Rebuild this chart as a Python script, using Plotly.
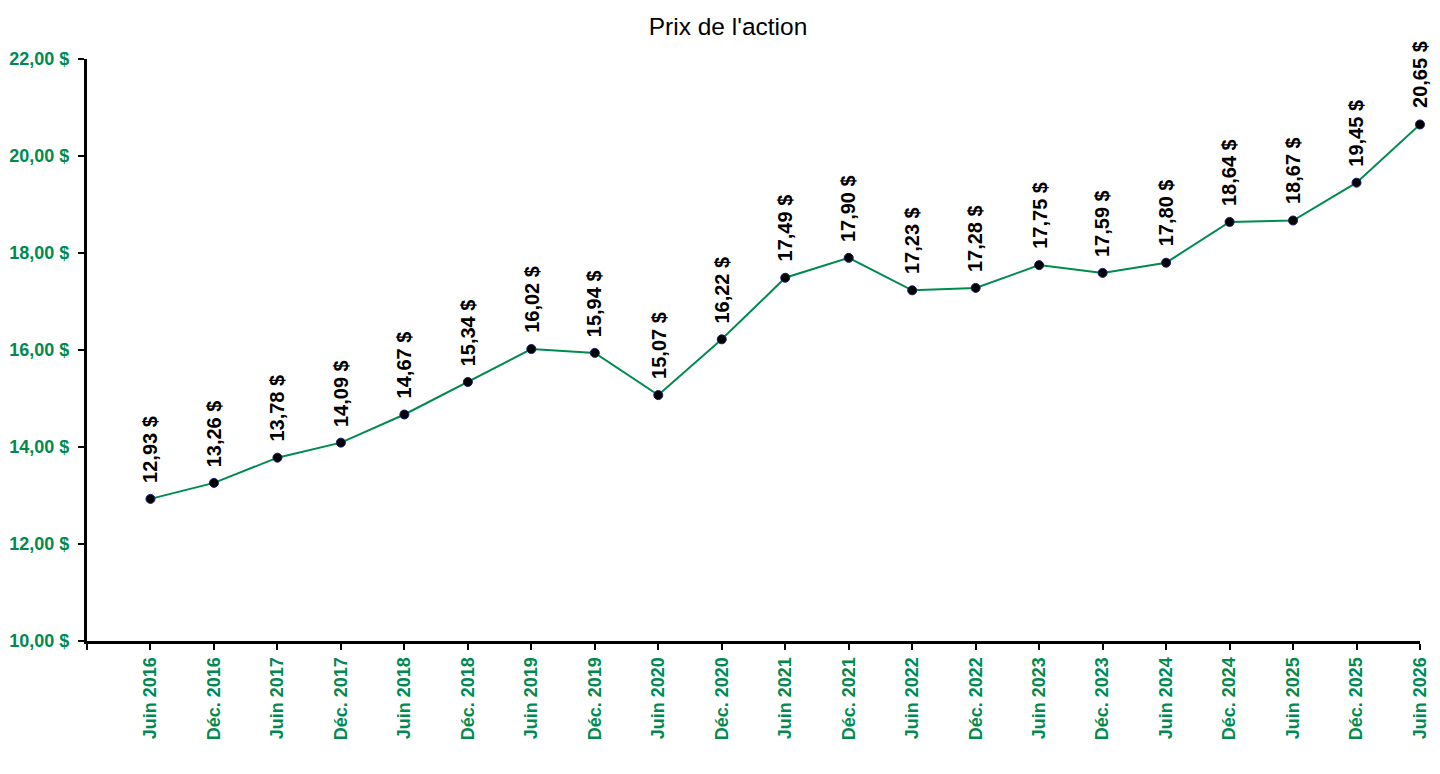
import plotly.graph_objs as go

labels = ['Juin 2016', 'Déc. 2016', 'Juin 2017', 'Déc. 2017', 'Juin 2018', 'Déc. 2018',
          'Juin 2019', 'Déc. 2019', 'Juin 2020', 'Déc. 2020', 'Juin 2021', 'Déc. 2021',
          'Juin 2022', 'Déc. 2022', 'Juin 2023', 'Déc. 2023', 'Juin 2024', 'Déc. 2024',
          'Juin 2025', 'Déc. 2025', 'Juin 2026']
prices = [12.93, 13.26, 13.78, 14.09, 14.67, 15.34, 16.02, 15.94, 15.07, 16.22, 17.49,
          17.90, 17.23, 17.28, 17.75, 17.59, 17.80, 18.64, 18.67, 19.45, 20.65]
y_ticks = [10, 12, 14, 16, 18, 20, 22]

green = '#008A50'
font = 'Liberation Sans, Arial, sans-serif'

def fr(v):
    return f'{v:.2f}'.replace('.', ',') + ' $'

xs = list(range(len(labels)))

fig = go.Figure()
fig.add_trace(go.Scatter(
    x=xs, y=prices, mode='lines+markers',
    line={'color': green, 'width': 2},
    marker={'size': 9, 'color': 'black', 'line': {'color': '#1a1a6e', 'width': 1}},
    cliponaxis=False, hoverinfo='skip'))

# data labels, vertical above each point
for x, v in zip(xs, prices):
    fig.add_annotation(x=x, y=v, text='<b>' + fr(v) + '</b>', textangle=-90,
                       showarrow=False, yanchor='bottom', xanchor='center', yshift=14,
                       font={'family': font, 'size': 20, 'color': 'black'})

# page body adds an 8px offset, margins are compensated for it
fig.update_layout({
    'width': 1440, 'height': 774,
    'margin': {'l': 79, 'r': 28, 't': 51, 'b': 141},
    'plot_bgcolor': 'white', 'paper_bgcolor': 'white',
    'showlegend': False,
    'title': {'text': "Prix de l'action", 'x': 0.5, 'xanchor': 'center',
              'yref': 'container', 'y': 1 - 18 / 774, 'yanchor': 'middle',
              'font': {'family': font, 'size': 24.5, 'color': 'black'}},
    'xaxis': {
        'range': [-1, 20], 'showgrid': False, 'zeroline': False, 'automargin': False,
        'tickvals': [-1] + xs, 'ticktext': [''] + ['<b>' + l + '</b>' for l in labels],
        'tickangle': -90, 'ticks': 'outside', 'ticklen': 6, 'tickwidth': 2,
        'tickcolor': 'black', 'showline': True, 'linecolor': 'black', 'linewidth': 3,
        'tickfont': {'family': font, 'size': 18, 'color': green},
    },
    'yaxis': {
        'range': [10, 22], 'showgrid': False, 'zeroline': False, 'automargin': False,
        'tickvals': y_ticks, 'ticktext': ['<b>' + fr(t) + '</b>' for t in y_ticks],
        'ticks': 'outside', 'ticklen': 6, 'tickwidth': 2, 'tickcolor': 'black',
        'ticklabelstandoff': 5,
        'showline': True, 'linecolor': 'black', 'linewidth': 3,
        'tickfont': {'family': font, 'size': 18, 'color': green},
    },
})

fig.write_html('out.html')
